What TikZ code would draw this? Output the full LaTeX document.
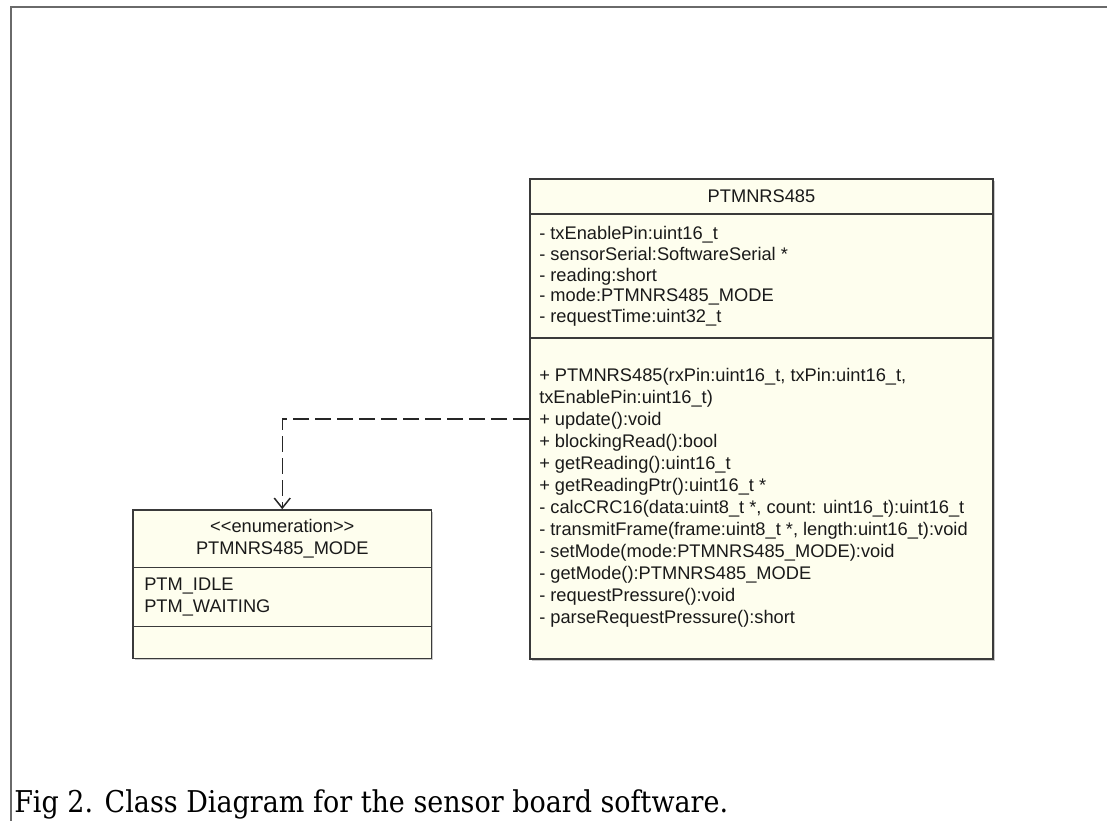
\documentclass[tikz,border=0pt]{standalone}
\usepackage{fontspec}
\usepackage{graphicx}
\setmainfont{Liberation Sans}
\newfontfamily\capfont{DejaVu Serif}
\usetikzlibrary{shadows,fit,arrows.meta}

\definecolor{boxfill}{HTML}{FEFEEE}
\definecolor{boxline}{HTML}{3A3A3A}
\definecolor{framecol}{HTML}{6A6A6A}
\definecolor{textcol}{HTML}{1A1A1A}

\begin{document}
\begin{tikzpicture}[x=0.75pt,y=-0.75pt,
  umlbox/.style={draw=boxline, line width=1.2pt, fill=boxfill, inner sep=0pt,
    drop shadow={shadow xshift=1.3pt, shadow yshift=-1.3pt, opacity=0.35, fill=black!60}},
  sepline/.style={draw=boxline, line width=1pt},
  txt/.style={anchor=base west, inner sep=0pt, text=textcol,
    font=\fontsize{13.7pt}{16.5pt}\selectfont},
  ctxt/.style={txt, anchor=base},
  dep/.style={draw=black!85, line width=1.1pt, dash pattern=on 12pt off 4.5pt,
    -{Straight Barb[length=7.5pt,width=12pt,line width=1.1pt]}}
]
\useasboundingbox (0,0) rectangle (1107,821);

% page frame
\draw[framecol, line width=1.6pt] (11,821) -- (11,7) -- (1107,7);

% class PTMNRS485
\coordinate (c1) at (530,179);
\coordinate (c2) at (993,659);
\node[umlbox, fit=(c1)(c2)] (cls) {};
\draw[sepline] (cls.west |- 0,214) -- (cls.east |- 0,214);
\draw[sepline] (cls.west |- 0,338) -- (cls.east |- 0,338);
\node[ctxt] (clsname) at (761.5,202.5) {PTMNRS485};

\node[txt] (a1) at (539,239.5) {- txEnablePin:uint16\_t};
\node[txt] (a2) at (539,260.3) {- sensorSerial:SoftwareSerial *};
\node[txt] (a3) at (539,281.0) {- reading:short};
\node[txt] (a4) at (539,301.8) {- mode:PTMNRS485\_MODE};
\node[txt] (a5) at (539,322.5) {- requestTime:uint32\_t};

\node[txt] (o1)  at (539,381.5) {+ PTMNRS485(rxPin:uint16\_t, txPin:uint16\_t,};
\node[txt] (o2)  at (539,403.5) {txEnablePin:uint16\_t)};
\node[txt] (o3)  at (539,425.5) {+ update():void};
\node[txt] (o4)  at (539,447.5) {+ blockingRead():bool};
\node[txt] (o5)  at (539,469.5) {+ getReading():uint16\_t};
\node[txt] (o6)  at (539,491.5) {+ getReadingPtr():uint16\_t *};
\node[txt] (o7)  at (539,513.5) {- calcCRC16(data:uint8\_t *, count: uint16\_t):uint16\_t};
\node[txt] (o8)  at (539,535.5) {- transmitFrame(frame:uint8\_t *, length:uint16\_t):void};
\node[txt] (o9)  at (539,557.5) {- setMode(mode:PTMNRS485\_MODE):void};
\node[txt] (o10) at (539,579.5) {- getMode():PTMNRS485\_MODE};
\node[txt] (o11) at (539,601.5) {- requestPressure():void};
\node[txt] (o12) at (539,623.5) {- parseRequestPressure():short};

% enumeration PTMNRS485_MODE
\coordinate (e1) at (133,510);
\coordinate (e2) at (431.5,658.5);
\node[umlbox, fit=(e1)(e2)] (enum) {};
\draw[sepline] (enum.west |- 0,567.3) -- (enum.east |- 0,567.3);
\draw[sepline] (enum.west |- 0,626.7) -- (enum.east |- 0,626.7);
\node[ctxt] (stereo) at (282.3,532.5) {{<}{<}enumeration{>}{>}};
\node[ctxt] (enumname) at (282.3,554.8) {PTMNRS485\_MODE};
\node[txt] (l1) at (144,590.5) {PTM\_IDLE};
\node[txt] (l2) at (144,612.5) {PTM\_WAITING};

% dependency
\draw[dep] (cls.west |- 0,419) -| (enum.north);

% caption
\node[anchor=base west, inner sep=0pt, text=black] (caption) at (14,812)
  {\resizebox{535.5pt}{\height}{\capfont\fontsize{22.5pt}{27pt}\selectfont Fig 2. Class Diagram for the sensor board software.}};
\end{tikzpicture}
\end{document}
